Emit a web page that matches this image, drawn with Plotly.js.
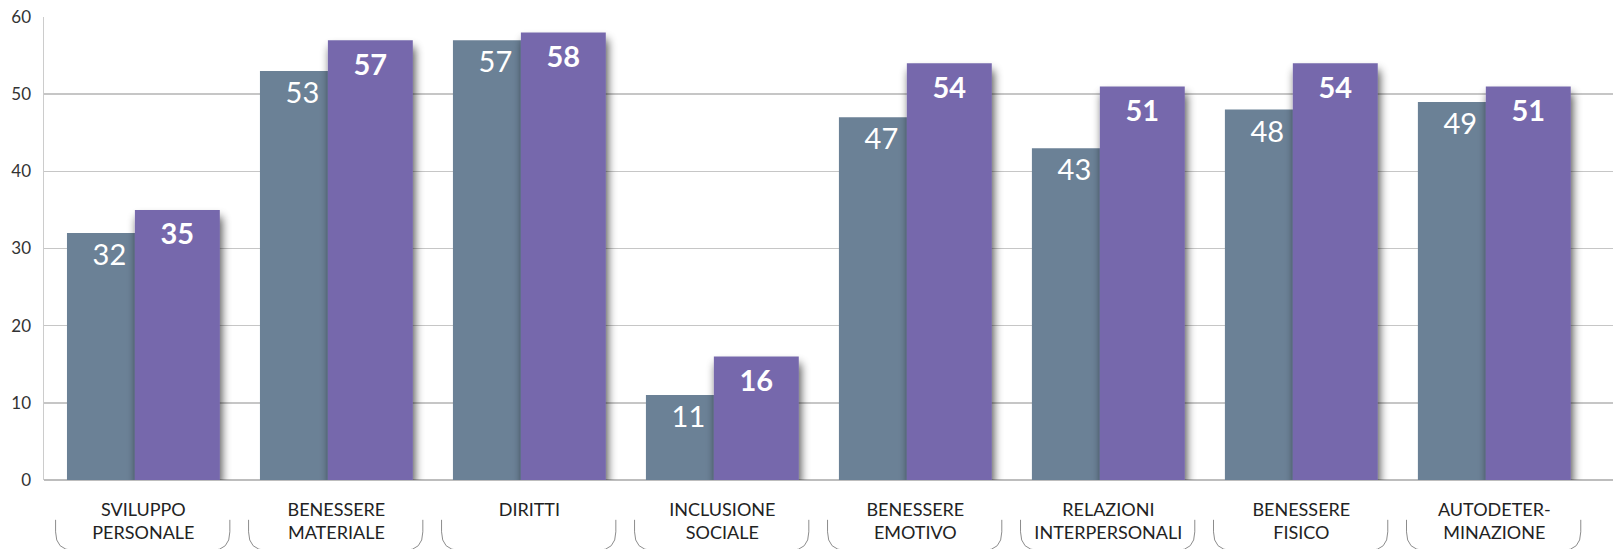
<!DOCTYPE html>
<html>
<head>
<meta charset="utf-8">
<script src="https://cdn.plot.ly/plotly-3.0.1.min.js"></script>
<style>
  html, body { margin: 0; padding: 0; background: #ffffff; }
  #chart { width: 1613px; height: 549px; }
</style>
</head>
<body>
<div id="chart"></div>
<script>
// ---- data ----
const categories = ['SVILUPPO PERSONALE', 'BENESSERE MATERIALE', 'DIRITTI', 'INCLUSIONE SOCIALE',
  'BENESSERE EMOTIVO', 'RELAZIONI INTERPERSONALI', 'BENESSERE FISICO', 'AUTODETERMINAZIONE'];
const tickLabels = ['SVILUPPO<br>PERSONALE', 'BENESSERE<br>MATERIALE', 'DIRITTI', 'INCLUSIONE<br>SOCIALE',
  'BENESSERE<br>EMOTIVO', 'RELAZIONI<br>INTERPERSONALI', 'BENESSERE<br>FISICO', 'AUTODETER-<br>MINAZIONE'];
const seriesA = [32, 53, 57, 11, 47, 43, 48, 49];
const seriesB = [35, 57, 58, 16, 54, 51, 54, 51];
const yTicks = [0, 10, 20, 30, 40, 50, 60];

// ---- styles ----
const colorA = '#6b8196';
const colorB = '#7668ac';
const font = 'Lato, "Open Sans", sans-serif';

const traceA = {
  type: 'bar', x: categories, y: seriesA,
  width: 0.44, offset: -0.396,
  marker: { color: colorA, line: { width: 0 } },
  text: seriesA.map(String), textposition: 'inside', insidetextanchor: 'end',
  textangle: 0, constraintext: 'none',
  textfont: { family: font, size: 29, color: '#ffffff' },
  hoverinfo: 'none'
};
const traceB = {
  type: 'bar', x: categories, y: seriesB,
  width: 0.44, offset: -0.044,
  marker: { color: colorB, line: { width: 0 } },
  text: seriesB.map(String), textposition: 'inside', insidetextanchor: 'end',
  textangle: 0, constraintext: 'none', cliponaxis: false,
  textfont: { family: font, size: 29, color: '#ffffff', weight: 700 },
  hoverinfo: 'none'
};

// bracket decorations under each category label
const shapes = categories.map((c, i) => {
  const l = i - 0.455, r = i + 0.448, top = -0.086, cs = -0.112, bot = -0.152, rx = 0.095;
  return {
    type: 'path', xref: 'x', yref: 'paper', layer: 'above',
    line: { color: '#8c8c8c', width: 1 },
    path: `M ${l},${top} L ${l},${cs} Q ${l},${bot} ${l + rx},${bot} L ${r - rx},${bot} Q ${r},${bot} ${r},${cs} L ${r},${top}`
  };
});

const layout = {
  width: 1613, height: 549,
  margin: { l: 44, r: 0, t: 17, b: 69, pad: 0 },
  paper_bgcolor: '#ffffff', plot_bgcolor: '#ffffff',
  showlegend: false, barmode: 'overlay',
  font: { family: font, color: '#222222' },
  xaxis: {
    type: 'category', range: [-0.515, 7.615],
    tickvals: categories, ticktext: tickLabels,
    tickfont: { family: font, size: 18, color: '#222222' },
    showgrid: false, showline: false, zeroline: false, ticks: '',
    ticklabelstandoff: 17, fixedrange: true
  },
  yaxis: {
    range: [0, 60], tickvals: yTicks, ticktext: yTicks.map(String),
    tickfont: { family: font, size: 17, color: '#333333' },
    showgrid: true, gridcolor: '#c6c6c6', gridwidth: 1.5,
    zeroline: true, zerolinecolor: '#bdbdbd', zerolinewidth: 2,
    showline: true, linecolor: '#cccccc', linewidth: 1.5,
    ticks: '', ticklabelstandoff: 8, fixedrange: true
  },
  shapes: shapes
};

Plotly.newPlot('chart', [traceA, traceB], layout, { staticPlot: true, displayModeBar: false }).then(gd => {
  const svg = gd.querySelector('svg.main-svg');
  const ns = 'http://www.w3.org/2000/svg';
  let defs = svg.querySelector('defs');
  if (!defs) { defs = document.createElementNS(ns, 'defs'); svg.insertBefore(defs, svg.firstChild); }
  const f = document.createElementNS(ns, 'filter');
  f.setAttribute('id', 'barshadow');
  f.setAttribute('x', '-30%'); f.setAttribute('y', '-30%');
  f.setAttribute('width', '160%'); f.setAttribute('height', '160%');
  f.innerHTML = '<feGaussianBlur in="SourceAlpha" stdDeviation="5"/>' +
    '<feOffset dx="2" dy="7" result="ob"/>' +
    '<feComponentTransfer><feFuncA type="linear" slope="0.7"/></feComponentTransfer>' +
    '<feMerge><feMergeNode/><feMergeNode in="SourceGraphic"/></feMerge>';
  defs.appendChild(f);
  const traces = gd.querySelectorAll('.barlayer .trace');
  if (traces.length > 1) {
    traces[1].querySelectorAll('.point path').forEach(p => p.setAttribute('filter', 'url(#barshadow)'));
    // nudge bold labels slightly lower to match reference placement
    traces[1].querySelectorAll('.point text').forEach(t => {
      const tr = t.getAttribute('transform') || '';
      t.setAttribute('transform', 'translate(0,2.5) ' + tr);
    });
  }
});
</script>
</body>
</html>
